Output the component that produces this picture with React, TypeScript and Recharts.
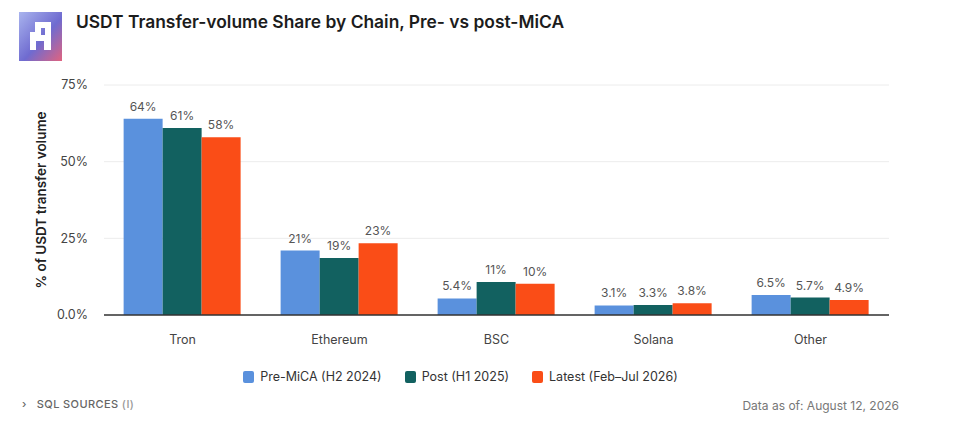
import { Bar, BarChart, CartesianGrid, LabelList, Legend, XAxis, YAxis } from "recharts";

const chains = ["Tron", "Ethereum", "BSC", "Solana", "Other"];
const preMica = [64, 21, 5.4, 3.1, 6.5];
const postMica = [61, 18.6, 10.8, 3.3, 5.7];
const latest = [58, 23.4, 10.2, 3.8, 4.9];
const yTicks = [0, 25, 50, 75];

const seriesList = [
  { key: "pre", name: "Pre-MiCA (H2 2024)", values: preMica, color: "#5a91dd" },
  { key: "post", name: "Post (H1 2025)", values: postMica, color: "#126160" },
  { key: "latest", name: "Latest (Feb–Jul 2026)", values: latest, color: "#fa4d17" },
];

const rows = chains.map((chain, i) => ({
  chain,
  pre: preMica[i],
  post: postMica[i],
  latest: latest[i],
}));

const font = "Inter, sans-serif";

const fmtLabel = (v: number) => (v >= 10 ? `${Math.round(v)}%` : `${v.toFixed(1)}%`);
const fmtTick = (v: number) => (v === 0 ? "0.0%" : `${v}%`);

function LegendRow() {
  return (
    <div style={{ display: "flex", justifyContent: "center", gap: 23, fontSize: 12.5, color: "#333" }}>
      {seriesList.map((s) => (
        <span key={s.key} style={{ display: "flex", alignItems: "center", gap: 6 }}>
          <span style={{ width: 11, height: 12, borderRadius: 2, background: s.color }} />
          {s.name}
        </span>
      ))}
    </div>
  );
}

// Pixel "A" mark on the gradient tile.
function Logo() {
  return (
    <svg width={43} height={49} style={{ position: "absolute", left: 19, top: 12 }}>
      <defs>
        <linearGradient id="tile" x1="0" y1="0" x2="1" y2="1">
          <stop offset="0%" stopColor="#a9b4ee" />
          <stop offset="55%" stopColor="#6f6bd0" />
          <stop offset="100%" stopColor="#e0637f" />
        </linearGradient>
      </defs>
      <rect width={43} height={49} fill="url(#tile)" />
      <path d="M16 10H32V38H25V29H17V38H11V20H16Z M22 16V23H26V16Z" fill="#fff" fillRule="evenodd" />
    </svg>
  );
}

export default function App() {
  return (
    <div style={{ position: "absolute", left: 0, top: 0, width: 960, height: 422, background: "#fff", fontFamily: font }}>
      <Logo />
      <div style={{ position: "absolute", left: 76, top: 11, fontSize: 17.4, fontWeight: 600, color: "#1c1c1c", whiteSpace: "nowrap" }}>
        USDT Transfer-volume Share by Chain, Pre- vs post-MiCA
      </div>
      <BarChart
        width={960}
        height={422}
        data={rows}
        barCategoryGap="12.5%"
        barGap={0}
        margin={{ top: 85, right: 71, bottom: 62, left: 32 }}
      >
        <CartesianGrid vertical={false} stroke="#ececec" />
        <XAxis
          dataKey="chain"
          height={30}
          tickLine={false}
          axisLine={{ stroke: "#333", strokeWidth: 1.5 }}
          tickMargin={14}
          tick={{ fontSize: 12.5, fill: "#444" }}
        />
        <YAxis
          width={72}
          domain={[0, 75]}
          ticks={yTicks}
          tickFormatter={fmtTick}
          axisLine={false}
          tickLine={false}
          tickMargin={10}
          tick={{ fontSize: 12.5, fill: "#444" }}
          label={{
            value: "% of USDT transfer volume",
            angle: -90,
            position: "insideLeft",
            offset: 9,
            style: { textAnchor: "middle", fontSize: 13.5, fontWeight: 600, fill: "#222" },
          }}
        />
        <Legend
          content={<LegendRow />}
          wrapperStyle={{ position: "absolute", top: 369, left: 0, width: 921 }}
        />
        {seriesList.map((s) => (
          <Bar key={s.key} dataKey={s.key} name={s.name} fill={s.color} isAnimationActive={false}>
            <LabelList dataKey={s.key} position="top" offset={8} formatter={fmtLabel} style={{ fontSize: 12, fill: "#555" }} />
          </Bar>
        ))}
      </BarChart>
      <div style={{ position: "absolute", left: 22, top: 397, fontSize: 11, fontWeight: 500, color: "#666", letterSpacing: 0.4 }}>
        ›&nbsp;&nbsp; SQL SOURCES <span style={{ color: "#999" }}>(I)</span>
      </div>
      <div style={{ position: "absolute", right: 61, top: 398, fontSize: 12, color: "#777" }}>
        Data as of: August 12, 2026
      </div>
    </div>
  );
}
